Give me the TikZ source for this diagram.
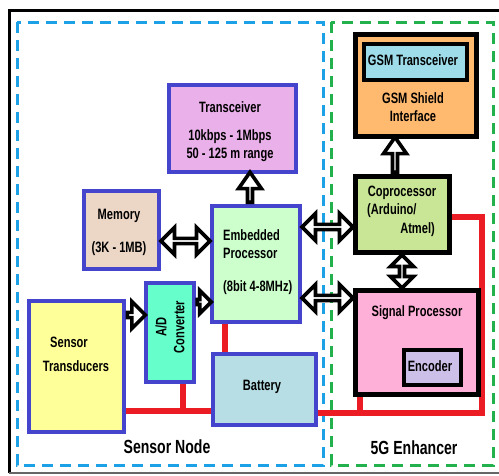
\documentclass[tikz,border=0pt]{standalone}
\usepackage{fontspec}
\setmainfont{Liberation Sans}[FakeStretch=0.74]
\usetikzlibrary{shapes.arrows,calc,backgrounds}
\definecolor{bord}{RGB}{68,68,204}
\definecolor{trc}{RGB}{234,176,234}
\definecolor{memc}{RGB}{236,214,198}
\definecolor{embc}{RGB}{204,255,204}
\definecolor{senc}{RGB}{255,255,153}
\definecolor{adcc}{RGB}{102,255,204}
\definecolor{batc}{RGB}{182,222,228}
\definecolor{gsmc}{RGB}{255,186,112}
\definecolor{gsmtc}{RGB}{158,220,234}
\definecolor{copc}{RGB}{200,230,150}
\definecolor{sigc}{RGB}{255,176,216}
\definecolor{encc}{RGB}{204,192,232}
\definecolor{redc}{RGB}{236,28,36}
\definecolor{dblue}{RGB}{28,160,230}
\definecolor{dgreen}{RGB}{34,177,76}
\newcommand{\boxat}[6]{\node[box,#6,minimum width={#4-#2},minimum height={#5-#3}] (#1) at (#2,#3) {};}
\newcommand{\fatarrow}[4]{\path let \p1=($(#4)-(#3)$), \n1={veclen(\x1,\y1)}, \n2={atan2(\y1,\x1)} in node[#1, minimum height=\n1, rotate=\n2] (#2) at ($(#3)!0.5!(#4)$) {};}
\begin{document}
\begin{tikzpicture}[x=1pt,y=-1pt,
  font=\fontsize{15}{18}\selectfont\bfseries,
  box/.style={draw, line width=4pt, inner sep=0pt, anchor=north west},
  bluebox/.style={box, draw=bord},
  blackbox/.style={box, draw=black, line width=5pt},
  txt/.style={inner sep=0pt, text=black},
  bigtxt/.style={txt, font=\fontsize{19}{22}\selectfont\bfseries},
  redl/.style={draw=redc, line width=6pt},
  dashbox/.style={line width=3pt, dash pattern=on 11pt off 7pt},
  darr/.style={double arrow, draw=black, fill=white, line width=3.6pt, inner sep=0pt, minimum width=27pt, double arrow head extend=7.5pt},
  sarr/.style={single arrow, draw=black, fill=white, line width=3.6pt, inner sep=0pt, minimum width=23pt, single arrow head extend=6.5pt},
  ]
\useasboundingbox (0,0) rectangle (499,475);
% frame
\coordinate (f1) at (499,10);
\coordinate (f2) at (9,10);
\coordinate (f3) at (9,473);
\coordinate (f4) at (499,473);
\draw[line width=3pt] (f1) -- (f2) -- (f3);
\draw[line width=1.5pt, black!60] (f3) -- (f4);
% boxes
\boxat{tr}{167}{83}{294}{170}{bluebox, fill=trc}
\boxat{mem}{82}{189}{157}{267}{bluebox, fill=memc}
\boxat{emb}{210}{204}{298}{320}{bluebox, fill=embc}
\boxat{sen}{27}{299}{122}{430}{bluebox, fill=senc}
\boxat{adc}{144}{281}{192}{380}{bluebox, fill=adcc}
\boxat{bat}{211}{352}{314}{423}{bluebox, fill=batc}
\boxat{gsm}{353}{32}{474}{134}{blackbox, fill=gsmc}
\boxat{gsmt}{362}{42}{465}{78}{blackbox, line width=4pt, fill=gsmtc}
\boxat{cop}{353}{174}{447}{250}{blackbox, fill=copc}
\boxat{sig}{353}{288}{476}{392}{blackbox, fill=sigc}
\boxat{enc}{402}{348}{459}{383}{blackbox, line width=3.5pt, fill=encc}
% helper coordinates
\coordinate (yA) at (0,217);
\coordinate (yB) at (0,413);
\coordinate (yC) at (0,411);
\coordinate (xR) at (482,0);
\coordinate (xS) at (360,0);
\coordinate (xE) at (225,0);
\coordinate (xD) at (183,0);
\coordinate (d1) at (17,22);
\coordinate (d2) at (323,465);
\coordinate (d3) at (331,22);
\coordinate (d4) at (493,465);
\begin{scope}[on background layer]
\draw[dashbox, draw=dblue] (d1) rectangle (d2);
\draw[dashbox, draw=dgreen] (d3) rectangle (d4);
\draw[redl] (cop.east |- yA) -- (xR |- yA) -- (xR |- yB) -- (bat.east |- yB);
\draw[redl] (sig.south -| xS) -- (xS |- yB);
\draw[redl] (emb.south -| xE) -- (bat.north -| xE);
\draw[redl] (sen.east |- yC) -- (bat.west |- yC);
\draw[redl] (adc.south -| xD) -- (xD |- yC);
\end{scope}
% arrow anchors
\coordinate (yM) at (0,241);
\coordinate (yP) at (0,227);
\coordinate (yQ) at (0,298);
\coordinate (yS) at (0,315);
\coordinate (yT) at (0,302);
\coordinate (xV) at (402,0);
\coordinate (xT) at (250,0);
\coordinate (xG) at (395,0);
\fatarrow{darr}{a1}{mem.east |- yM}{emb.west |- yM}
\fatarrow{darr}{a2}{emb.east |- yP}{cop.west |- yP}
\fatarrow{darr}{a3}{emb.east |- yQ}{sig.west |- yQ}
\fatarrow{darr, minimum width=23pt, double arrow head extend=6.5pt}{a4}{cop.south -| xV}{sig.north -| xV}
\fatarrow{sarr, single arrow tip angle=70}{a5}{emb.north -| xT}{tr.south -| xT}
\fatarrow{sarr, single arrow tip angle=70}{a6}{cop.north -| xG}{gsm.south -| xG}
\fatarrow{sarr, minimum width=27pt, single arrow head extend=7.5pt}{a7}{sen.east |- yS}{adc.west |- yS}
\fatarrow{sarr, minimum width=23pt, single arrow head extend=6.5pt}{a8}{adc.east |- yT}{emb.west |- yT}
% texts
\node[txt] (t1) at (230,107) {Transceiver};
\node[txt] (t2) at (230,137) {10kbps - 1Mbps};
\node[txt] (t3) at (230,155) {50 - 125 m range};
\node[txt] (t4) at (119,216) {Memory};
\node[txt] (t5) at (119,249) {(3K - 1MB)};
\node[txt, anchor=west] (t6) at (223,235) {Embedded};
\node[txt, anchor=west] (t7) at (223,253) {Processor};
\node[txt, anchor=west] (t8) at (223,288) {(8bit 4-8MHz)};
\node[txt] (t9) at (69,342) {Sensor};
\node[txt] (t10) at (76,366) {Transducers};
\node[txt, rotate=90, align=center] (t11) at (170,327) {A/D\\Converter};
\node[txt] (t12) at (262,387) {Battery};
\node[txt] (t13) at (413,60) {GSM Transceiver};
\node[txt] (t14) at (413,98) {GSM Shield};
\node[txt] (t15) at (413,116) {Interface};
\node[txt] (t16) at (402,193) {Coprocessor};
\node[txt, anchor=west] (t17) at (367,211) {(Arduino/};
\node[txt, anchor=east] (t18) at (435,230) {Atmel)};
\node[txt] (t19) at (417,313) {Signal Processor};
\node[txt] (t20) at (430,366) {Encoder};
\node[bigtxt] (t21) at (167,447) {Sensor Node};
\node[bigtxt] (t22) at (414,448) {5G Enhancer};
\end{tikzpicture}
\end{document}
